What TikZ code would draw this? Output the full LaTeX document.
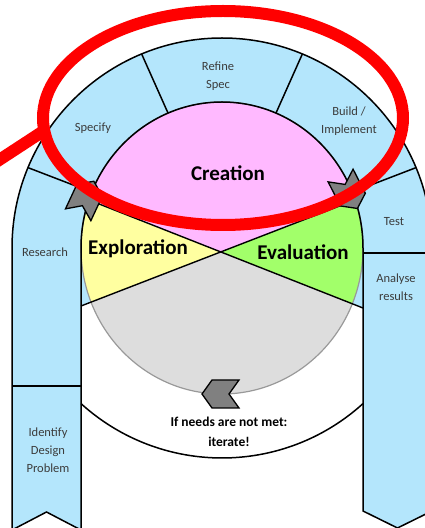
\documentclass[tikz,border=0pt]{standalone}
\usepackage{fontspec}
\setmainfont{Carlito}
\usetikzlibrary{calc}
\definecolor{archblue}{HTML}{B4E6FC}
\definecolor{creapink}{HTML}{FFB9FF}
\definecolor{explyellow}{HTML}{FFFFA0}
\definecolor{evalgreen}{HTML}{A2FF6A}
\definecolor{piegray}{HTML}{DDDDDD}
\definecolor{chevgray}{HTML}{808080}
\definecolor{labelgray}{HTML}{3C3C3C}
\begin{document}
\begin{tikzpicture}[x=1pt,y=1pt,
  outline/.style={draw=black,line width=1.5pt},
  steplabel/.style={font=\fontsize{12.5}{18}\selectfont,text=labelgray,align=center,inner sep=0pt},
  phaselabel/.style={font=\fontsize{21}{25}\selectfont\bfseries,inner sep=0pt},
  notelabel/.style={font=\fontsize{13.5}{20}\selectfont\bfseries,align=center,inner sep=0pt},
  chev/.pic={\draw[fill=chevgray,line width=1.3pt,line join=miter]
    (-18.5,14) -- (8.5,14) -- (18.5,0) -- (8.5,-14) -- (-18.5,-14) -- (-8.5,0) -- cycle;},
  ring/.style={draw=red,line width=12pt}
]
\useasboundingbox (0,0) rectangle (425,528);
\clip (0,0) rectangle (425,528);

% key points
\coordinate (C) at (222,280);
\coordinate (X) at (221,276);
\coordinate (LL) at (81,222);
\coordinate (LR) at (363,220);
\coordinate (UL) at ($(X)!-2!(LR)$);
\coordinate (UR) at ($(X)!-2!(LL)$);
\coordinate (DL) at ($(X)!2!(LL)$);
\coordinate (DR) at ($(X)!2!(LR)$);
\coordinate (EA) at (355,328);
\coordinate (EB) at (89,328);

% arch: two columns joined by a half ring
\path[fill=archblue] (12,-2) -- (12,280) arc[start angle=180,end angle=0,radius=210]
  -- (432,17) -- (397.5,0) -- (363,17) -- (363,280)
  arc[start angle=0,end angle=180,x radius=141,y radius=146]
  -- (81,-2) -- (46.5,16) -- cycle;
\fill[archblue] (81,280) -- (LL) -- (X) -- (LR) -- (363,280) -- cycle;

% the three phases and the lower sector
\begin{scope}
  \clip (C) ellipse [x radius=141,y radius=146];
  \fill[creapink] (X) -- (UR) -- (501,600) -- (-63,600) -- (UL) -- cycle;
  \fill[explyellow] (X) -- (UL) -- (DL) -- cycle;
  \fill[evalgreen] (X) -- (UR) -- (DR) -- cycle;
  \fill[piegray] (X) -- (DL) -- (-59,-50) -- (505,-50) -- (DR) -- cycle;
\end{scope}
\draw[gray!80,line width=1.2pt] (C) ellipse [x radius=141,y radius=146];
\draw[black,line width=1.4pt] (LL) -- (EA);
\draw[black,line width=1.4pt] (LR) -- (EB);

% arch outline and step dividers
\draw[outline,line join=miter] (12,-2) -- (12,280) arc[start angle=180,end angle=0,radius=210]
  -- (432,17) -- (397.5,0) -- (363,17) -- (363,280)
  arc[start angle=0,end angle=180,x radius=141,y radius=146]
  -- (81,-2) -- (46.5,16) -- cycle;
\foreach \a in {157.5,112.5,67.5,22.5}
  \draw[outline] ($(C)+(\a:141 and 146)$) -- ($(C)+(\a:210)$);
\draw[outline] (363,275) -- (432,275);
\draw[outline] (12,142) -- (81,142);

% lower band closing the loop
\coordinate (BL) at ($(C)+(227.83:210)$);
\draw[outline] (BL) arc[start angle=227.83,end angle=312.17,radius=210];

% flow chevrons
\pic (chevL) [rotate=65] at (86,330) {chev};
\pic (chevR) [rotate=-63] at (349,336) {chev};
\pic (chevB) [rotate=180] at (220.5,134) {chev};

% labels
\node[steplabel] (refine) at (218,452) {Refine\\Spec};
\node[steplabel] (specify) at (93,400) {Specify};
\node[steplabel] (build) at (349,407) {Build /\\Implement};
\node[steplabel] (research) at (45,276) {Research};
\node[steplabel] (identify) at (48,78) {Identify\\Design\\Problem};
\node[steplabel] (test) at (394,306) {Test};
\node[steplabel] (analyse) at (396,241) {Analyse\\results};
\node[phaselabel] (creation) at (228,355) {Creation};
\node[phaselabel] (exploration) at (138,279) {Exploration};
\node[phaselabel] (evaluation) at (303,276) {Evaluation};
\node[notelabel] (iterate) at (229,96) {If needs are not met:\\iterate!};

% red highlight
\draw[ring] (223,410) ellipse [x radius=180,y radius=107];
\draw[ring] (-20,355.5) -- (42,396);
\end{tikzpicture}
\end{document}
